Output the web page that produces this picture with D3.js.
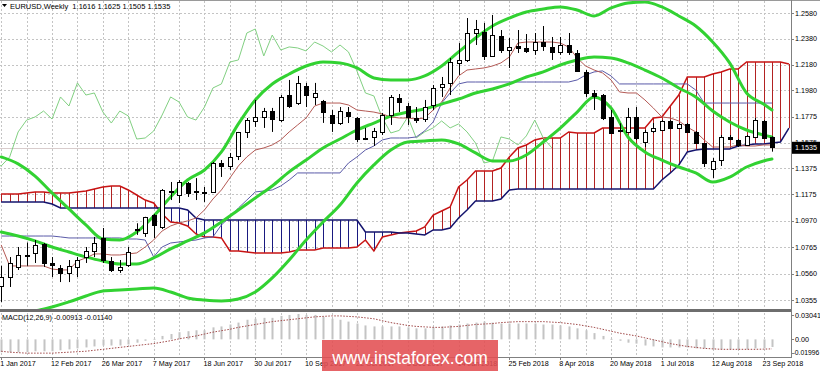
<!DOCTYPE html>
<html><head><meta charset="utf-8">
<script src="https://cdn.jsdelivr.net/npm/d3@7"></script>
<style>
body{margin:0;background:#fff;}
svg{display:block;font-family:"Liberation Sans",Arial,sans-serif;}
</style></head><body>
<svg id="c" width="820" height="371"></svg>
<script>
// ---- data (weekly bars, index 0 = week of 1 Jan 2017) ----
const tickLabels = ["1 Jan 2017","12 Feb 2017","26 Mar 2017","7 May 2017","18 Jun 2017","30 Jul 2017","10 Sep 2017","22 Oct 2017","3 Dec 2017","14 Jan 2018","25 Feb 2018","8 Apr 2018","20 May 2018","1 Jul 2018","12 Aug 2018","23 Sep 2018"];
const priceTicks = [1.2580,1.2380,1.2180,1.1980,1.1775,1.1575,1.1375,1.1175,1.0970,1.0765,1.0560,1.0355];
const macdTicks = [0.03041,0.00,-0.01996];

const open=[1.0460,1.0533,1.0611,1.0700,1.0720,1.0789,1.0642,1.0603,1.0564,1.0611,
1.0688,1.0735,1.0836,1.0657,1.0588,1.0626,1.0905,1.0875,1.1014,1.0921,
1.1200,1.1169,1.1262,1.1200,1.1196,1.1193,1.1417,1.1394,1.1472,1.1658,
1.1743,1.1774,1.1820,1.1750,1.1944,1.1882,1.2014,1.1929,1.1898,1.1789,
1.1727,1.1813,1.1766,1.1611,1.1619,1.1658,1.1789,1.1921,1.1859,1.1766,
1.1758,1.1867,1.2006,1.2038,1.2193,1.2216,1.2425,1.2433,1.2247,1.2402,
1.2293,1.2324,1.2309,1.2293,1.2355,1.2317,1.2278,1.2332,1.2270,1.2123,
1.1960,1.1944,1.1774,1.1665,1.1658,1.1774,1.1580,1.1665,1.1673,1.1743,
1.1689,1.1720,1.1658,1.1572,1.1371,1.1440,1.1619,1.1595,1.1557,1.1619,
1.1743,1.1616];
const high=[1.0620,1.0688,1.0766,1.0800,1.0820,1.0797,1.0688,1.0626,1.0665,1.0688,
1.0766,1.0844,1.0913,1.0688,1.0665,1.0766,1.0950,1.1000,1.1022,1.1215,
1.1270,1.1285,1.1270,1.1300,1.1231,1.1425,1.1440,1.1495,1.1658,1.1766,
1.1906,1.1844,1.1844,1.1944,1.2061,1.2092,1.2038,1.2038,1.1906,1.1828,
1.1851,1.1851,1.1774,1.1689,1.1689,1.1805,1.1944,1.1952,1.1882,1.1851,
1.1906,1.2022,1.2084,1.2231,1.2347,1.2541,1.2526,1.2503,1.2565,1.2448,
1.2386,1.2448,1.2417,1.2425,1.2479,1.2394,1.2394,1.2425,1.2293,1.2138,
1.1983,1.1952,1.1828,1.1725,1.1844,1.1851,1.1673,1.1727,1.1750,1.1750,
1.1727,1.1727,1.1665,1.1572,1.1456,1.1634,1.1634,1.1603,1.1634,1.1766,
1.1750,1.1625];
const low=[1.0340,1.0456,1.0588,1.0620,1.0642,1.0611,1.0533,1.0494,1.0494,1.0533,
1.0642,1.0688,1.0642,1.0572,1.0565,1.0611,1.0860,1.0844,1.0836,1.0905,
1.1130,1.1107,1.1154,1.1130,1.1115,1.1185,1.1309,1.1363,1.1440,1.1611,
1.1697,1.1689,1.1658,1.1735,1.1844,1.1867,1.1851,1.1867,1.1728,1.1658,
1.1712,1.1727,1.1580,1.1595,1.1549,1.1634,1.1712,1.1813,1.1712,1.1727,
1.1735,1.1828,1.1929,1.1944,1.2100,1.2200,1.2332,1.2216,1.2239,1.2270,
1.2154,1.2270,1.2270,1.2255,1.2286,1.2216,1.2255,1.2255,1.2123,1.1929,
1.1828,1.1750,1.1650,1.1655,1.1650,1.1595,1.1541,1.1650,1.1665,1.1680,
1.1680,1.1650,1.1565,1.1386,1.1301,1.1394,1.1595,1.1541,1.1549,1.1619,
1.1603,1.1505];
const close=[1.0530,1.0642,1.0704,1.0698,1.0782,1.0642,1.0626,1.0564,1.0619,1.0665,
1.0735,1.0797,1.0665,1.0588,1.0611,1.0727,1.0895,1.0998,1.0937,1.1208,
1.1192,1.1270,1.1185,1.1196,1.1192,1.1417,1.1394,1.1464,1.1658,1.1750,
1.1774,1.1820,1.1758,1.1929,1.1859,1.2038,1.1944,1.1960,1.1813,1.1727,
1.1820,1.1782,1.1603,1.1611,1.1665,1.1789,1.1929,1.1890,1.1774,1.1750,
1.1851,1.1999,1.2030,1.2200,1.2216,1.2425,1.2456,1.2247,1.2409,1.2293,
1.2317,1.2309,1.2286,1.2355,1.2324,1.2278,1.2332,1.2278,1.2130,1.1960,
1.1937,1.1766,1.1650,1.1670,1.1774,1.1611,1.1658,1.1689,1.1743,1.1689,
1.1720,1.1658,1.1572,1.1417,1.1433,1.1619,1.1603,1.1557,1.1627,1.1750,
1.1611,1.1535];

// Ichimoku (cloud shifted 26 forward, chikou 26 back)
const spanA=[1.1177,1.1177,1.1177,1.1185,1.1193,1.1193,1.1185,1.1185,1.1185,1.1193,
1.1200,1.1216,1.1231,1.1239,1.1239,1.1208,1.1169,1.1130,1.1107,1.1022,
1.0960,1.0952,1.0929,1.0867,1.0844,1.0844,1.0836,1.0735,1.0735,1.0727,
1.0720,1.0720,1.0720,1.0720,1.0727,1.0743,1.0743,1.0743,1.0758,1.0758,
1.0758,1.0758,1.0766,1.0820,1.0735,1.0844,1.0859,1.0875,1.0882,1.0890,
1.0921,1.1014,1.1045,1.1076,1.1231,1.1285,1.1355,1.1355,1.1355,1.1378,
1.1464,1.1534,1.1557,1.1596,1.1611,1.1611,1.1611,1.1658,1.1650,1.1650,
1.1650,1.1688,1.1688,1.1688,1.1688,1.1688,1.1688,1.1766,1.1774,1.1859,
1.1944,1.2084,1.2084,1.2084,1.2107,1.2123,1.2146,1.2146,1.2200,1.2200,
1.2200,1.2200,1.2200,1.2185];
const spanB=[1.1115,1.1115,1.1115,1.1115,1.1115,1.1115,1.1099,1.1068,1.1068,1.1068,
1.1068,1.1068,1.1068,1.1068,1.1068,1.1068,1.1068,1.1068,1.1068,1.1068,
1.1068,1.1068,1.1053,1.0991,1.0975,1.0975,1.0975,1.0975,1.0975,1.0975,
1.0975,1.0975,1.0975,1.0975,1.0975,1.0975,1.0975,1.0975,1.0975,1.0975,
1.0975,1.0975,1.0975,1.0882,1.0882,1.0882,1.0882,1.0875,1.0875,1.0867,
1.0859,1.0898,1.0898,1.0913,1.0991,1.1053,1.1122,1.1122,1.1122,1.1138,
1.1208,1.1216,1.1216,1.1216,1.1216,1.1216,1.1216,1.1216,1.1216,1.1216,
1.1216,1.1216,1.1216,1.1216,1.1216,1.1216,1.1216,1.1216,1.1285,1.1340,
1.1402,1.1503,1.1518,1.1526,1.1526,1.1526,1.1526,1.1549,1.1557,1.1565,
1.1565,1.1572,1.1580,1.1688];
const tenkan=[1.0782,1.0619,1.0619,1.0619,1.0619,1.0619,1.0595,1.0588,1.0588,1.0657,
1.0681,1.0712,1.0712,1.0704,1.0704,1.0712,1.0720,1.0766,1.0820,1.0890,
1.0929,1.0952,1.0968,1.0991,1.1053,1.1138,1.1208,1.1301,1.1394,1.1464,
1.1518,1.1534,1.1557,1.1596,1.1658,1.1712,1.1766,1.1859,1.1882,1.1882,
1.1882,1.1867,1.1828,1.1820,1.1812,1.1797,1.1774,1.1766,1.1766,1.1758,
1.1766,1.1828,1.1890,1.1999,1.2092,1.2138,1.2146,1.2154,1.2169,1.2193,
1.2239,1.2347,1.2355,1.2355,1.2355,1.2355,1.2347,1.2316,1.2231,1.2169,
1.2138,1.2115,1.2061,1.1968,1.1960,1.1960,1.1906,1.1843,1.1774,1.1766,
1.1743,1.1696,1.1658,1.1596,1.1541,1.1541,1.1541,1.1557,1.1549,1.1549,
1.1557,1.1557];
const kijun=[1.0851,1.0851,1.0851,1.0851,1.0851,1.0851,1.0851,1.0844,1.0836,1.0836,
1.0836,1.0836,1.0836,1.0836,1.0836,1.0828,1.0828,1.0820,1.0689,1.0766,
1.0797,1.0805,1.0813,1.0820,1.0836,1.0844,1.0937,1.0998,1.1068,1.1130,
1.1193,1.1200,1.1208,1.1239,1.1285,1.1340,1.1340,1.1340,1.1340,1.1340,
1.1340,1.1417,1.1464,1.1518,1.1549,1.1596,1.1611,1.1611,1.1611,1.1619,
1.1666,1.1735,1.1882,1.1960,1.2030,1.2045,1.2045,1.2045,1.2045,1.2045,
1.2045,1.2045,1.2045,1.2045,1.2045,1.2045,1.2045,1.2045,1.2061,1.2099,
1.2123,1.2131,1.2092,1.2030,1.2030,1.2030,1.2030,1.2030,1.2030,1.2030,
1.2030,1.2030,1.1983,1.1882,1.1882,1.1882,1.1882,1.1882,1.1882,1.1882,
1.1882,1.1882];
const chikouShift = 26;

// Bollinger bands (20,2), read at every second bar plus the last one
const bbIdx = d3.range(0, 92, 2).concat([91]);
const bbUpper=[1.1464,1.1410,1.1316,1.1185,1.1061,1.0937,1.0828,1.0820,1.0882,1.1006,
1.1154,1.1285,1.1363,1.1503,1.1720,1.1906,1.2030,1.2107,1.2169,1.2200,
1.2193,1.2154,1.2076,1.2061,1.2061,1.2092,1.2169,1.2278,1.2386,1.2479,
1.2541,1.2588,1.2611,1.2627,1.2603,1.2557,1.2619,1.2658,1.2665,1.2627,
1.2557,1.2479,1.2355,1.2193,1.1960,1.1874,1.1828];
const bbMid=[1.0882,1.0851,1.0813,1.0766,1.0727,1.0689,1.0657,1.0634,1.0634,1.0681,
1.0751,1.0813,1.0875,1.0960,1.1053,1.1146,1.1239,1.1348,1.1440,1.1534,
1.1603,1.1673,1.1727,1.1781,1.1812,1.1836,1.1874,1.1913,1.1960,1.1991,
1.2030,1.2084,1.2123,1.2177,1.2216,1.2239,1.2231,1.2193,1.2138,1.2076,
1.1999,1.1929,1.1820,1.1735,1.1673,1.1635,1.1619];
const bbLower=[1.0216,1.0239,1.0270,1.0301,1.0340,1.0386,1.0425,1.0433,1.0440,1.0448,
1.0417,1.0371,1.0355,1.0348,1.0363,1.0417,1.0526,1.0665,1.0820,1.0960,
1.1091,1.1262,1.1402,1.1518,1.1580,1.1588,1.1596,1.1565,1.1495,1.1433,
1.1433,1.1479,1.1580,1.1688,1.1812,1.1929,1.1843,1.1619,1.1503,1.1440,
1.1386,1.1340,1.1270,1.1308,1.1386,1.1433,1.1448];

// MACD(12,26,9)
const macdMain=[-0.0154,-0.0154,-0.0154,-0.0154,-0.0143,-0.0143,-0.0143,-0.0131,-0.0120,-0.0108,
-0.0097,-0.0085,-0.0074,-0.0074,-0.0074,-0.0062,-0.0040,-0.0017,0.0006,0.0041,
0.0064,0.0086,0.0098,0.0109,0.0109,0.0144,0.0155,0.0178,0.0201,0.0235,
0.0247,0.0258,0.0258,0.0281,0.0293,0.0304,0.0293,0.0293,0.0270,0.0247,
0.0235,0.0213,0.0190,0.0167,0.0155,0.0155,0.0155,0.0155,0.0144,0.0132,
0.0132,0.0144,0.0155,0.0167,0.0178,0.0190,0.0201,0.0213,0.0201,0.0190,
0.0190,0.0190,0.0190,0.0190,0.0178,0.0178,0.0167,0.0155,0.0132,0.0109,
0.0075,0.0041,0.0006,-0.0017,-0.0040,-0.0051,-0.0074,-0.0085,-0.0097,-0.0097,
-0.0097,-0.0097,-0.0108,-0.0108,-0.0120,-0.0120,-0.0120,-0.0120,-0.0120,-0.0108,
-0.0108,-0.00913];
const macdSignal=[-0.01424,-0.01538,-0.01595,-0.01653,-0.01653,-0.01653,-0.01653,-0.01595,-0.01538,-0.01481,
-0.01424,-0.01309,-0.01195,-0.01080,-0.00966,-0.00851,-0.00737,-0.00622,-0.00508,-0.00336,
-0.00164,0.00064,0.00236,0.00408,0.00637,0.00866,0.01038,0.01209,0.01438,0.01610,
0.01782,0.01953,0.02125,0.02240,0.02354,0.02469,0.02583,0.02697,0.02755,0.02812,
0.02812,0.02755,0.02697,0.02583,0.02469,0.02240,0.02010,0.01839,0.01667,0.01553,
0.01496,0.01438,0.01438,0.01496,0.01553,0.01667,0.01782,0.01839,0.01896,0.02010,
0.02068,0.02125,0.02125,0.02125,0.02125,0.02068,0.02010,0.01896,0.01782,0.01610,
0.01438,0.01209,0.00980,0.00751,0.00580,0.00408,0.00179,-0.00050,-0.00279,-0.00508,
-0.00680,-0.00851,-0.00966,-0.01080,-0.01138,-0.01195,-0.01195,-0.01195,-0.01195,-0.01195,
-0.01172,-0.01140];

// ---- drawing ----
const W=820, H=371;
const plotR=791, mainTop=1, mainBot=309, macdTop=313, macdBot=357;
const svg=d3.select("#c");
const x=d3.scaleLinear().domain([0,93]).range([1.2,1.2+93*8.47]);
const y=d3.scaleLinear().domain([1.0355,1.2580]).range([300,13]);
const ym=d3.scaleLinear().domain([-0.01996,0.03041]).range([356,314]);

svg.append("rect").attr("width",W).attr("height",H).attr("fill","#fff");
const defs=svg.append("defs");
defs.append("clipPath").attr("id","cm").append("rect").attr("x",0).attr("y",mainTop).attr("width",plotR).attr("height",mainBot-mainTop);
defs.append("clipPath").attr("id","cd").append("rect").attr("x",0).attr("y",macdTop).attr("width",plotR).attr("height",macdBot-macdTop);

const grid=svg.append("g").attr("stroke","#c4c4c4").attr("stroke-width",1).attr("stroke-dasharray","2,2");
d3.range(0,92,3).forEach(i=>{
  const gx=Math.round(x(i))+0.5;
  grid.append("line").attr("x1",gx).attr("x2",gx).attr("y1",mainTop).attr("y2",mainBot);
  grid.append("line").attr("x1",gx).attr("x2",gx).attr("y1",macdTop).attr("y2",macdBot);
});
priceTicks.forEach(p=>{
  const gy=Math.round(y(p))+0.5;
  grid.append("line").attr("x1",0).attr("x2",plotR).attr("y1",gy).attr("y2",gy);
});

const main=svg.append("g").attr("clip-path","url(#cm)");

// current price line
main.append("line").attr("x1",0).attr("x2",plotR).attr("y1",Math.round(y(close[91]))+0.5).attr("y2",Math.round(y(close[91]))+0.5)
  .attr("stroke","#d8cccc").attr("stroke-width",1);

// cloud hatch
const cloudIdx=d3.range(spanA.length);
main.append("g").selectAll("line").data(cloudIdx).join("line")
  .attr("x1",i=>Math.round(x(i))+0.5).attr("x2",i=>Math.round(x(i))+0.5)
  .attr("y1",i=>y(spanA[i])).attr("y2",i=>y(spanB[i]))
  .attr("stroke",i=>spanA[i]>=spanB[i]?"#b22222":"#1a1a80").attr("stroke-width",1);

const lineOf=(arr,offset=0)=>d3.line().x((d,i)=>x(i+offset)).y(d=>y(d));
main.append("path").attr("d",lineOf(spanA)(spanA)).attr("fill","none").attr("stroke","#c81414").attr("stroke-width",1.5);
main.append("path").attr("d",lineOf(spanB)(spanB)).attr("fill","none").attr("stroke","#14146e").attr("stroke-width",1.5);

// chikou: closes drawn 26 bars back
const chik=close.map((c,i)=>({i:i-chikouShift,v:c})).filter(d=>d.i>=-1);
main.append("path").attr("d",d3.line().x(d=>x(d.i)).y(d=>y(d.v))(chik)).attr("fill","none").attr("stroke","#82d082").attr("stroke-width",1);
main.append("path").attr("d",lineOf(kijun)(kijun)).attr("fill","none").attr("stroke","#5a5aa8").attr("stroke-width",1);
main.append("path").attr("d",lineOf(tenkan)(tenkan)).attr("fill","none").attr("stroke","#b45a55").attr("stroke-width",1);

// Bollinger
const bbLine=arr=>d3.line().curve(d3.curveMonotoneX).x((d,k)=>x(bbIdx[k])).y(d=>y(d))(arr);
[bbUpper,bbMid,bbLower].forEach(a=>{
  main.append("path").attr("d",bbLine(a)).attr("fill","none").attr("stroke","#32d232").attr("stroke-width",3).attr("stroke-linecap","round");
});

// candles
const cg=main.append("g");
close.forEach((c,i)=>{
  const cx=Math.round(x(i))+0.5;
  cg.append("line").attr("x1",cx).attr("x2",cx).attr("y1",y(high[i])).attr("y2",y(low[i])).attr("stroke","#000").attr("stroke-width",1);
  const top=y(Math.max(open[i],c)), bot=y(Math.min(open[i],c));
  const bull=c>=open[i];
  cg.append("rect").attr("x",cx-2).attr("y",Math.round(top)+0.5).attr("width",4).attr("height",Math.max(1,Math.round(bot-top)))
    .attr("fill",bull?"#fff":"#000").attr("stroke","#000").attr("stroke-width",1);
});

// MACD
const md=svg.append("g").attr("clip-path","url(#cd)");
md.selectAll("rect").data(macdMain).join("rect")
  .attr("x",(d,i)=>Math.round(x(i))-0.5).attr("width",2)
  .attr("y",d=>Math.min(ym(d),ym(0))).attr("height",d=>Math.max(1,Math.abs(ym(d)-ym(0))))
  .attr("fill","#c4c4c4");
md.append("path").attr("d",d3.line().x((d,i)=>x(i)).y(d=>ym(d))(macdSignal))
  .attr("fill","none").attr("stroke","#a04848").attr("stroke-width",1).attr("stroke-dasharray","1.5,1.5");

// frames
svg.append("line").attr("x1",0).attr("x2",W).attr("y1",0.5).attr("y2",0.5).attr("stroke","#9a9a9a");
svg.append("rect").attr("x",0).attr("y",309).attr("width",plotR).attr("height",3).attr("fill","#6e6e6e");
svg.append("line").attr("x1",plotR+0.5).attr("x2",plotR+0.5).attr("y1",0).attr("y2",358).attr("stroke","#808080");
svg.append("line").attr("x1",0).attr("x2",plotR).attr("y1",357.5).attr("y2",357.5).attr("stroke","#808080");

// price axis labels
const ax=svg.append("g").attr("font-size",7.2).attr("fill","#000");
priceTicks.forEach(p=>{
  const ty=y(p);
  svg.append("line").attr("x1",plotR).attr("x2",plotR+3).attr("y1",Math.round(ty)+0.5).attr("y2",Math.round(ty)+0.5).attr("stroke","#808080");
  ax.append("text").attr("x",795).attr("y",ty).attr("dy","0.35em").text(p.toFixed(4));
});
const cy=y(close[91]);
svg.append("rect").attr("x",792).attr("y",cy-6).attr("width",28).attr("height",12).attr("fill","#000");
svg.append("text").attr("x",795).attr("y",cy).attr("dy","0.35em").attr("font-size",7.2).attr("fill","#fff").text(close[91].toFixed(4));

// MACD axis labels
const mLab=[{t:"0.03041",yy:315,lx:795},{t:"0.00",yy:ym(macdTicks[1]),lx:795},{t:"-0.01996",yy:353,lx:792.5}];
mLab.forEach(m=>{
  ax.append("text").attr("x",m.lx).attr("y",m.yy).attr("dy","0.35em").attr("font-size",m.t.length>7?6.8:7.2).text(m.t);
  svg.append("line").attr("x1",plotR).attr("x2",plotR+3).attr("y1",Math.round(m.yy)+0.5).attr("y2",Math.round(m.yy)+0.5).attr("stroke","#808080");
});

// date labels
tickLabels.forEach((t,k)=>{
  const i=k*6;
  ax.append("text").attr("x",Math.max(0,x(i)-1)).attr("y",366).text(t);
  svg.append("line").attr("x1",Math.round(x(i))+0.5).attr("x2",Math.round(x(i))+0.5).attr("y1",357).attr("y2",360).attr("stroke","#808080");
});

// titles
svg.append("path").attr("d","M2,4 L7,4 L4.5,7 Z").attr("fill","#000");
svg.append("text").attr("x",10).attr("y",9).attr("font-size",7.5).attr("fill","#000").attr("xml:space","preserve")
  .text("EURUSD,Weekly  1.1616 1.1625 1.1505 1.1535");
svg.append("text").attr("x",2).attr("y",320).attr("font-size",7.2).attr("fill","#000")
  .text("MACD(12,26,9) -0.00913 -0.01140");

// watermark
svg.append("rect").attr("x",322).attr("y",340).attr("width",176).attr("height",31).attr("fill","rgb(226,78,82)").attr("fill-opacity",0.88);
svg.append("text").attr("x",410).attr("y",364).attr("text-anchor","middle").attr("font-size",17.5).attr("fill","#fff").text("www.instaforex.com");
</script>
</body></html>
